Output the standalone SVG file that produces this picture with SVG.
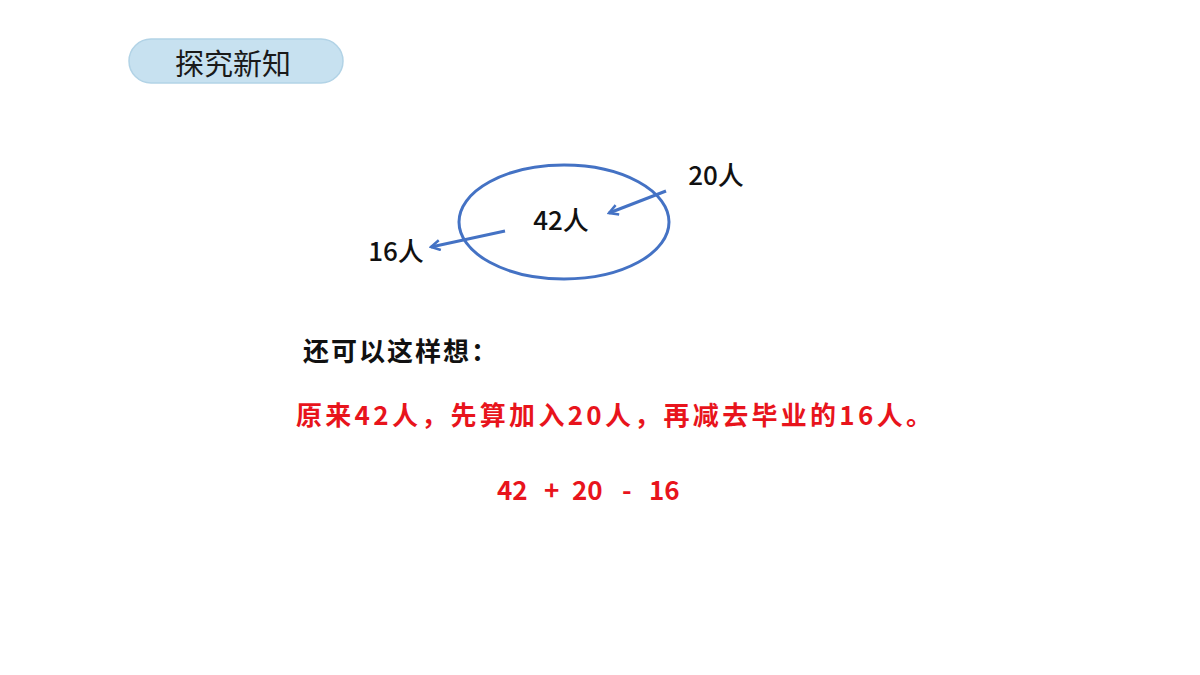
<svg xmlns="http://www.w3.org/2000/svg" width="1200" height="675" viewBox="0 0 1200 675">
<defs>
<style>
.t{font-family:"Noto Sans CJK SC","Noto Sans",sans-serif;}
.blk{fill:#111;font-size:26px;font-weight:500;}
.red{fill:#e8141c;font-size:26px;font-weight:700;}
.conn{stroke:#4472c4;stroke-width:3;fill:none;}
</style>
<marker id="ah" viewBox="0 0 12 12" refX="10" refY="6" markerWidth="12" markerHeight="12" markerUnits="userSpaceOnUse" orient="auto">
<path d="M1,1 L10,6 L1,11" fill="none" stroke="#4472c4" stroke-width="2.5"/>
</marker>
</defs>
<rect width="1200" height="675" fill="#fff"/>
<g id="title">
<rect x="129" y="39" width="214" height="44" rx="22" fill="#c7e1f0" stroke="#b2d3e6" stroke-width="1.5"/>
<text class="t" x="233" y="75" text-anchor="middle" font-size="29" fill="#1a1a1a">探究新知</text>
</g>
<g id="set">
<ellipse cx="564" cy="222" rx="105" ry="57" fill="none" stroke="#4472c4" stroke-width="3"/>
<text class="t blk" x="561" y="230" text-anchor="middle">42人</text>
</g>
<g id="in">
<text class="t blk" x="716" y="185" text-anchor="middle">20人</text>
</g>
<g id="out">
<text class="t blk" x="396" y="261" text-anchor="middle">16人</text>
</g>
<g id="connectors">
<line class="conn" x1="666" y1="191" x2="609" y2="213" marker-end="url(#ah)"/>
<line class="conn" x1="505" y1="231" x2="431" y2="247" marker-end="url(#ah)"/>
</g>
<g id="notes">
<text class="t" x="303" y="361" font-size="26" font-weight="700" fill="#111" letter-spacing="2">还可以这样想：</text>
<text class="t red" x="296" y="425" letter-spacing="3.3">原来42人，先算加入20人，再减去毕业的16人。</text>
<text class="t red" y="500"><tspan x="497">42</tspan><tspan x="544">+</tspan><tspan x="572">20</tspan><tspan x="622">-</tspan><tspan x="649">16</tspan></text>
</g>
</svg>
